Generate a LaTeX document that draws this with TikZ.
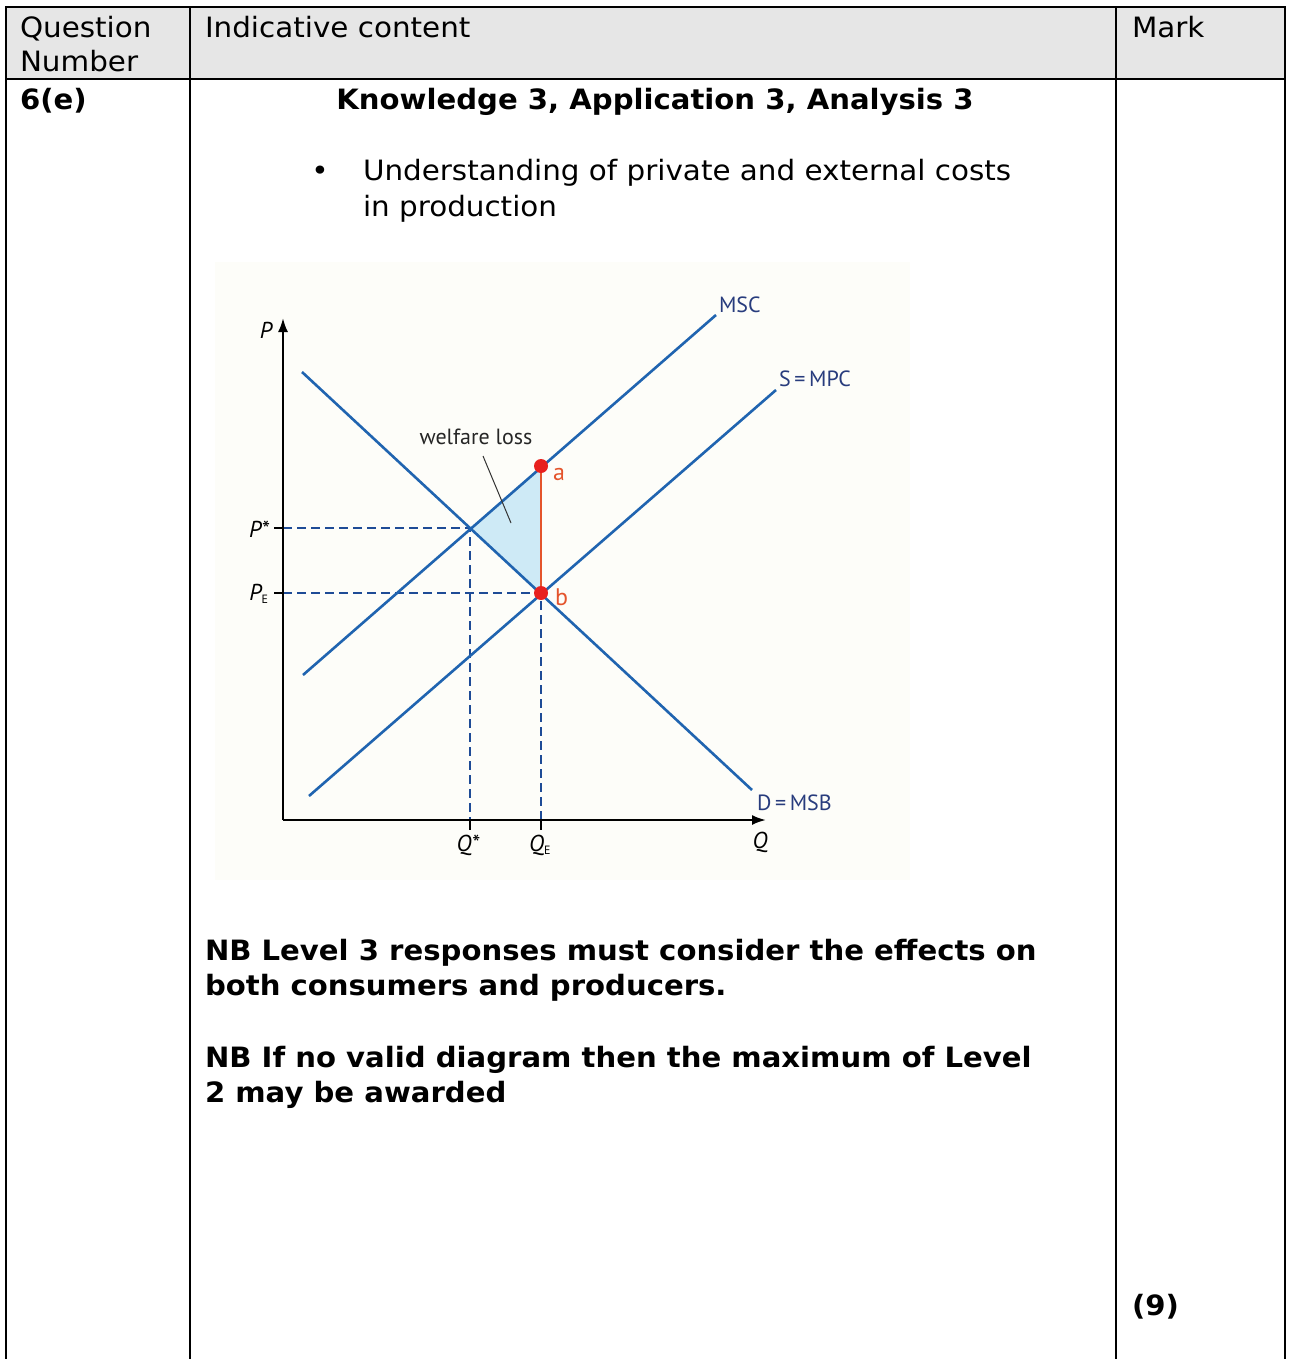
\documentclass[tikz,border=0pt]{standalone}
\usepackage{fontspec}
\setmainfont{DejaVu Sans}[FakeStretch=1.05,BoldFeatures={FakeStretch=1.04}]
\newfontfamily\diagfont{PT Sans}
\usetikzlibrary{arrows.meta}
\definecolor{headgray}{RGB}{230,230,230}
\definecolor{curveblue}{RGB}{32,100,176}
\definecolor{guideblue}{RGB}{30,75,150}
\definecolor{labnavy}{RGB}{40,60,125}
\definecolor{dotred}{RGB}{232,32,30}
\definecolor{laborange}{RGB}{228,84,44}
\definecolor{wlfill}{RGB}{206,234,246}
\definecolor{paperbg}{RGB}{253,253,249}
\tikzset{
  tableline/.style={line width=2.4pt,black},
  txt/.style={inner sep=0pt,outer sep=0pt,font=\fontsize{28}{34}\selectfont},
  btxt/.style={inner sep=0pt,outer sep=0pt,font=\fontsize{28}{34}\selectfont\bfseries},
  curve/.style={line width=2.6pt,curveblue},
  guide/.style={line width=1.4pt,guideblue,dash pattern=on 9pt off 5pt},
  tick/.style={line width=1.8pt,black},
  axis/.style={line width=2.2pt,black,-{Latex[length=14pt,width=10pt]}},
  dlab/.style={inner sep=0pt,outer sep=0pt,font=\diagfont\fontsize{22}{24}\selectfont,labnavy},
  ilab/.style={inner sep=0pt,outer sep=0pt,font=\diagfont\itshape\fontsize{23}{25}\selectfont,black},
  ptlab/.style={inner sep=0pt,outer sep=0pt,font=\diagfont\fontsize{24}{26}\selectfont,laborange},
  dot/.style={circle,fill=dotred,inner sep=0pt,minimum size=14pt}
}
\begin{document}
\begin{tikzpicture}[x=1pt,y=-1pt]
\useasboundingbox (0,0) rectangle (1291,1359);
\fill[white] (0,0) rectangle (1291,1359);
% header
\fill[headgray] (6,7) rectangle (1285,79);
\draw[tableline] (6,1365) -- (6,7) -- (1285,7) -- (1285,1365);
\draw[tableline] (6,79) -- (1285,79);
\draw[tableline] (190,7) -- (190,1365);
\draw[tableline] (1116,7) -- (1116,1365);
% header texts
\node[txt,anchor=base west] (hq1) at (20,38) {Question};
\node[txt,anchor=base west] (hq2) at (20,72) {Number};
\node[txt,anchor=base west] (hic) at (205,38) {Indicative content};
\node[txt,anchor=base west] (hmk) at (1132,38) {Mark};
% row
\node[btxt,anchor=base west] (qnum) at (20,110) {6(e)};
\node[btxt,anchor=base] (kaa) at (655,110) {Knowledge 3, Application 3, Analysis 3};
\node[txt,anchor=base] (bul) at (320,181) {•};
\node[txt,anchor=base west] (u1) at (363,181) {Understanding of private and external costs};
\node[txt,anchor=base west] (u2) at (363,216) {in production};
\node[btxt,anchor=base west] (nb1) at (205,960) {NB Level 3 responses must consider the effects on};
\node[btxt,anchor=base west] (nb2) at (205,995) {both consumers and producers.};
\node[btxt,anchor=base west] (nb3) at (205,1067) {NB If no valid diagram then the maximum of Level};
\node[btxt,anchor=base west] (nb4) at (205,1102) {2 may be awarded};
\node[btxt,anchor=base west] (mk) at (1132,1315) {(9)};
% diagram background
\fill[paperbg] (215,262) rectangle (910,880);
% key points
\coordinate (O) at (283,820);
\coordinate (Ptop) at (283,318);
\coordinate (Qend) at (766,820);
\coordinate (Ps) at (470,528);
\coordinate (A) at (541,466);
\coordinate (B) at (541,593);
\coordinate (Paxs) at (283,528);
\coordinate (Paxe) at (283,593);
\coordinate (Qaxs) at (470,820);
\coordinate (Qaxe) at (541,820);
% welfare loss triangle
\fill[wlfill] (Ps) -- (A) -- (B) -- cycle;
% guides
\draw[guide] (Paxs) -- (Ps) -- (Qaxs);
\draw[guide] (Paxe) -- (B) -- (Qaxe);
% ticks
\draw[tick] (Paxs) -- ++(-9,0);
\draw[tick] (Paxe) -- ++(-9,0);
\draw[tick] (Qaxs) -- ++(0,10);
\draw[tick] (Qaxe) -- ++(0,10);
% axes
\draw[axis] (O) -- (Ptop);
\draw[axis] (O) -- (Qend);
% curves
\coordinate (D1) at (302,372);
\coordinate (D2) at (752,790);
\coordinate (M1) at (303,675);
\coordinate (M2) at (716,315);
\coordinate (S1) at (309,796);
\coordinate (S2) at (776,390);
\draw[curve] (D1) -- (D2);
\draw[curve] (M1) -- (M2);
\draw[curve] (S1) -- (S2);
% red segment and dots
\draw[line width=1.8pt,laborange] (A) -- (B);
\node[dot] (da) at (A) {};
\node[dot] (db) at (B) {};
% labels
\node[ptlab,anchor=base west] (la) at (553,480) {a};
\node[ptlab,anchor=base west] (lb) at (555,605) {b};
\node[dlab,anchor=base west] (lmsc) at (719,312) {MSC};
\node[dlab,anchor=base west] (lmpc) at (779,386) {S\,=\,MPC};
\node[dlab,anchor=base west] (lmsb) at (757,810) {D\,=\,MSB};
\node[dlab,anchor=base,black!85] (lwl) at (476,444) {welfare loss};
\draw[line width=1pt,black!80] (483,456) -- (511,523);
\node[ilab,anchor=base] (lp) at (266,338) {P};
\node[ilab,anchor=base] (lps) at (259,537) {P*};
\node[ilab,anchor=base] (lpe) at (259,600) {P\textsubscript{\normalfont\diagfont\fontsize{12}{13}\selectfont E}};
\node[ilab,anchor=base] (lqs) at (468,851) {Q*};
\node[ilab,anchor=base] (lqe) at (540,851) {Q\textsubscript{\normalfont\diagfont\fontsize{12}{13}\selectfont E}};
\node[ilab,anchor=base] (lq) at (760,848) {Q};
\end{tikzpicture}
\end{document}
